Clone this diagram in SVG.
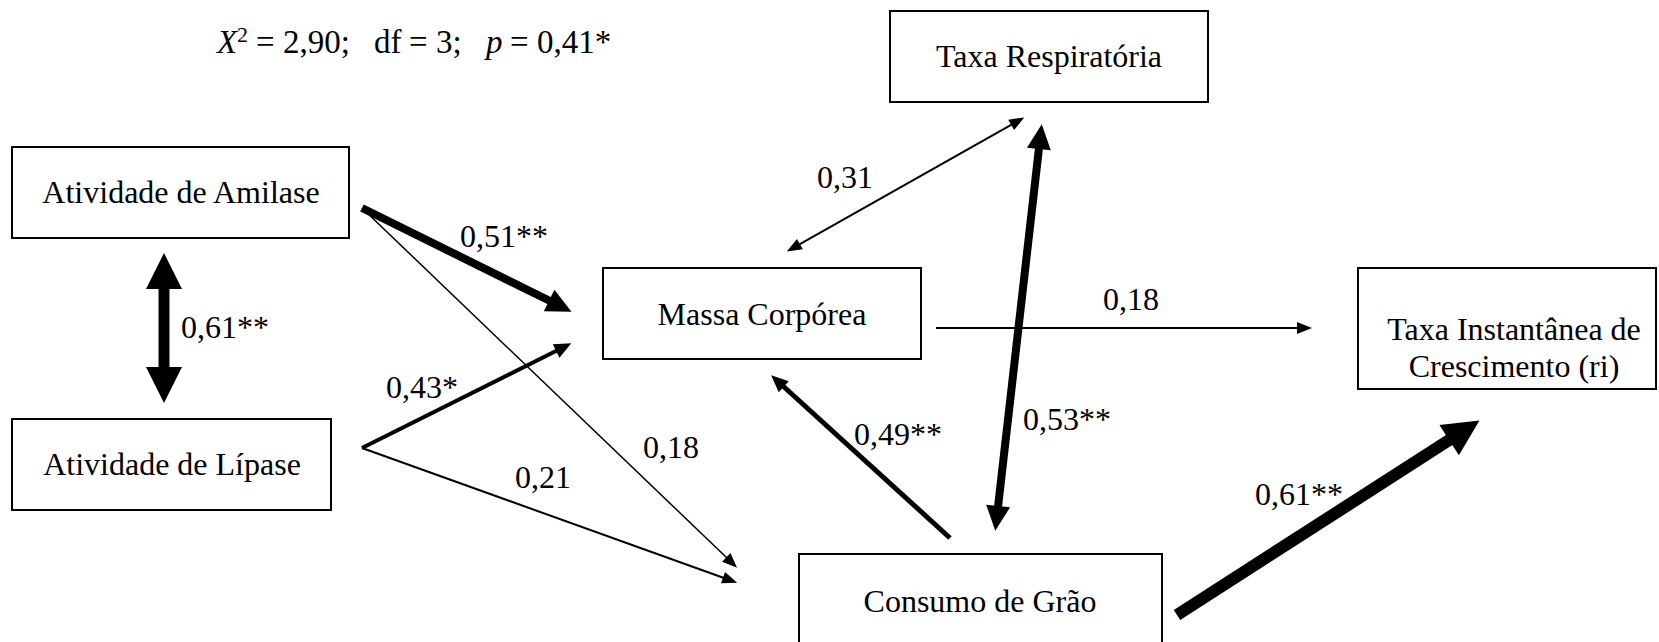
<svg xmlns="http://www.w3.org/2000/svg" width="1659" height="642" viewBox="0 0 1659 642">
<style>
text{font-family:"Liberation Serif","Times New Roman",serif;font-size:32px;fill:#000}
.box rect{fill:#fff;stroke:#000;stroke-width:2}
.box text{text-anchor:middle}
.c line{stroke:#000;fill:none}
.i{font-style:italic}
#stats{font-size:33px}
</style>
<defs>
<marker id="hXL" markerUnits="userSpaceOnUse" orient="auto-start-reverse" refX="1" refY="0" markerWidth="40" markerHeight="40" overflow="visible"><path d="M0,-18 L36,0 L0,18 Z" fill="#000"/></marker>
<marker id="hL" markerUnits="userSpaceOnUse" orient="auto-start-reverse" refX="1" refY="0" markerWidth="30" markerHeight="30" overflow="visible"><path d="M0,-12 L25,0 L0,12 Z" fill="#000"/></marker>
<marker id="hM" markerUnits="userSpaceOnUse" orient="auto-start-reverse" refX="1" refY="0" markerWidth="20" markerHeight="20" overflow="visible"><path d="M0,-7.5 L17,0 L0,7.5 Z" fill="#000"/></marker>
<marker id="hS" markerUnits="userSpaceOnUse" orient="auto-start-reverse" refX="1" refY="0" markerWidth="20" markerHeight="20" overflow="visible"><path d="M0,-6 L15,0 L0,6 Z" fill="#000"/></marker>
</defs>
<rect width="1659" height="642" fill="#fff"/>
<text id="stats" y="53"><tspan class="i" x="217">X</tspan><tspan x="237" y="42" font-size="22">2</tspan><tspan x="256" y="53">=</tspan><tspan x="283">2,90;</tspan><tspan x="374">df</tspan><tspan x="409">=</tspan><tspan x="436">3;</tspan><tspan class="i" x="486">p</tspan><tspan x="510">=</tspan><tspan x="537">0,41*</tspan></text>
<g id="amilase" class="box"><rect x="12" y="147" width="337" height="91"/><text x="181" y="203">Atividade de Amilase</text></g>
<g id="lipase" class="box"><rect x="12" y="419" width="319" height="91"/><text x="172" y="475">Atividade de Lípase</text></g>
<g id="massa" class="box"><rect x="603" y="268" width="318" height="91"/><text x="762" y="325">Massa Corpórea</text></g>
<g id="respiratoria" class="box"><rect x="890" y="11" width="318" height="91"/><text x="1049" y="67">Taxa Respiratória</text></g>
<g id="crescimento" class="box"><rect x="1358" y="268" width="298" height="121"/><text x="1514" y="340">Taxa Instantânea de</text><text x="1514" y="377">Crescimento (ri)</text></g>
<g id="consumo" class="box"><rect x="799" y="554" width="363" height="98"/><text x="980" y="612">Consumo de Grão</text></g>
<g id="connectors" class="c">
<line x1="164" y1="288" x2="164" y2="368" stroke-width="11" marker-start="url(#hXL)" marker-end="url(#hXL)"/>
<line x1="362" y1="208" x2="550" y2="301" stroke-width="8" marker-end="url(#hL)"/>
<line x1="362" y1="208" x2="727" y2="558" stroke-width="1.5" marker-end="url(#hS)"/>
<line x1="362" y1="448" x2="557" y2="350.5" stroke-width="4" marker-end="url(#hM)"/>
<line x1="362" y1="448" x2="724" y2="578" stroke-width="2" marker-end="url(#hS)"/>
<line x1="799" y1="244.6" x2="1012" y2="124.4" stroke-width="2" marker-start="url(#hS)" marker-end="url(#hS)"/>
<line x1="1039" y1="148" x2="998" y2="507" stroke-width="8" marker-start="url(#hL)" marker-end="url(#hL)"/>
<line x1="936" y1="328" x2="1298" y2="328" stroke-width="2" marker-end="url(#hS)"/>
<line x1="950" y1="538" x2="783" y2="386" stroke-width="5" marker-end="url(#hM)"/>
<line x1="1177" y1="615" x2="1450" y2="439.5" stroke-width="12" marker-end="url(#hXL)"/>
</g>
<g id="labels">
<text x="181" y="338">0,61**</text>
<text x="460" y="247">0,51**</text>
<text x="386" y="398">0,43*</text>
<text x="643" y="458">0,18</text>
<text x="515" y="488">0,21</text>
<text x="817" y="188">0,31</text>
<text x="1103" y="310">0,18</text>
<text x="854" y="445">0,49**</text>
<text x="1023" y="430">0,53**</text>
<text x="1255" y="505">0,61**</text>
</g>
</svg>
